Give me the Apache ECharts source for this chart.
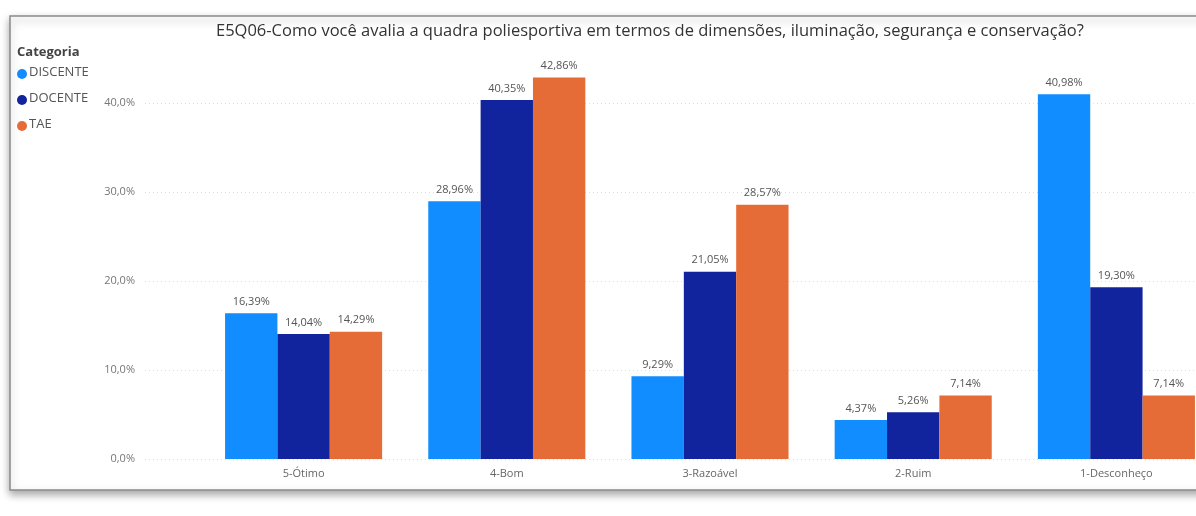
<!DOCTYPE html>
<html><head><meta charset="utf-8">
<style>html,body{margin:0;padding:0;background:#fff;}#c{width:1196px;height:516px;}</style>
<script src="https://cdn.jsdelivr.net/npm/echarts@6/dist/echarts.min.js"></script>
</head><body><div id="c"></div>
<script>
var titleText = 'E5Q06-Como você avalia a quadra poliesportiva em termos de dimensões, iluminação, segurança e conservação?';
var categories = ['5-Ótimo', '4-Bom', '3-Razoável', '2-Ruim', '1-Desconheço'];
var seriesNames = ['DISCENTE', 'DOCENTE', 'TAE'];
var discente = [16.39, 28.96, 9.29, 4.37, 40.98];
var docente = [14.04, 40.35, 21.05, 5.26, 19.30];
var tae = [14.29, 42.86, 28.57, 7.14, 7.14];
var colors = ['#118DFF', '#12239E', '#E66C37'];

var fmtPct = function (v, d) { return v.toFixed(d).replace('.', ',') + '%'; };
var chart = echarts.init(document.getElementById('c'));
var font = 'Open Sans, Noto Sans, sans-serif';
var gTop = 58.5, gBottom = 57;
var mk = function (name, data, i) {
  return {
    name: name, type: 'bar', data: data, xAxisIndex: 1, yAxisIndex: 1,
    itemStyle: { color: colors[i] },
    barGap: '0%', barCategoryGap: '22.7%',
    label: { show: true, position: 'top', distance: 6, color: '#555', fontSize: 11, fontFamily: font,
      formatter: function (p) { return fmtPct(p.value, 2); } }
  };
};
chart.setOption({
  animation: false,
  title: { text: titleText, left: 211, top: 18,
    textStyle: { fontFamily: font, fontSize: 16.5, fontWeight: 'normal', color: '#333' } },
  legend: { show: false },
  graphic: [
    { type: 'rect', shape: { x: 10, y: 16, width: 1300, height: 474 }, z: -10,
      style: { fill: '#fff', stroke: '#8a8a8a', lineWidth: 1.5, shadowBlur: 8, shadowOffsetY: 4, shadowColor: 'rgba(0,0,0,0.35)' } },
    { type: 'text', left: 17, top: 46, style: { text: 'Categoria', font: 'bold 13px ' + font, fill: '#444' } },
    { type: 'circle', shape: { cx: 22, cy: 74, r: 5 }, style: { fill: colors[0] } },
    { type: 'text', left: 29, top: 66, style: { text: seriesNames[0], font: '13px ' + font, fill: '#555' } },
    { type: 'circle', shape: { cx: 22, cy: 100, r: 5 }, style: { fill: colors[1] } },
    { type: 'text', left: 29, top: 92, style: { text: seriesNames[1], font: '13px ' + font, fill: '#555' } },
    { type: 'circle', shape: { cx: 22, cy: 126, r: 5 }, style: { fill: colors[2] } },
    { type: 'text', left: 29, top: 118, style: { text: seriesNames[2], font: '13px ' + font, fill: '#555' } }
  ],
  grid: [
    { left: 145, width: 1071, top: gTop, bottom: gBottom, outerBoundsMode: 'none', containLabel: false },
    { left: 202, width: 1016, top: gTop, bottom: gBottom, outerBoundsMode: 'none', containLabel: false }
  ],
  xAxis: [
    { type: 'value', gridIndex: 0, min: 0, max: 1, show: false },
    { type: 'category', gridIndex: 1, data: categories,
      axisLine: { show: false }, axisTick: { show: false },
      axisLabel: { color: '#666', fontSize: 11, fontFamily: font, margin: 9 } }
  ],
  yAxis: [
    { type: 'value', gridIndex: 0, min: 0, max: 45, interval: 10,
      axisLabel: { color: '#777', fontSize: 11, fontFamily: font, margin: 10, showMaxLabel: false,
        formatter: function (v) { return fmtPct(v, 1); } },
      splitLine: { showMaxLine: false, lineStyle: { color: '#ddd', type: [1, 3], width: 1 } },
      axisLine: { show: false }, axisTick: { show: false } },
    { type: 'value', gridIndex: 1, min: 0, max: 45, interval: 10, show: false, splitLine: { show: false } }
  ],
  series: [mk(seriesNames[0], discente, 0), mk(seriesNames[1], docente, 1), mk(seriesNames[2], tae, 2)]
});
</script></body></html>
